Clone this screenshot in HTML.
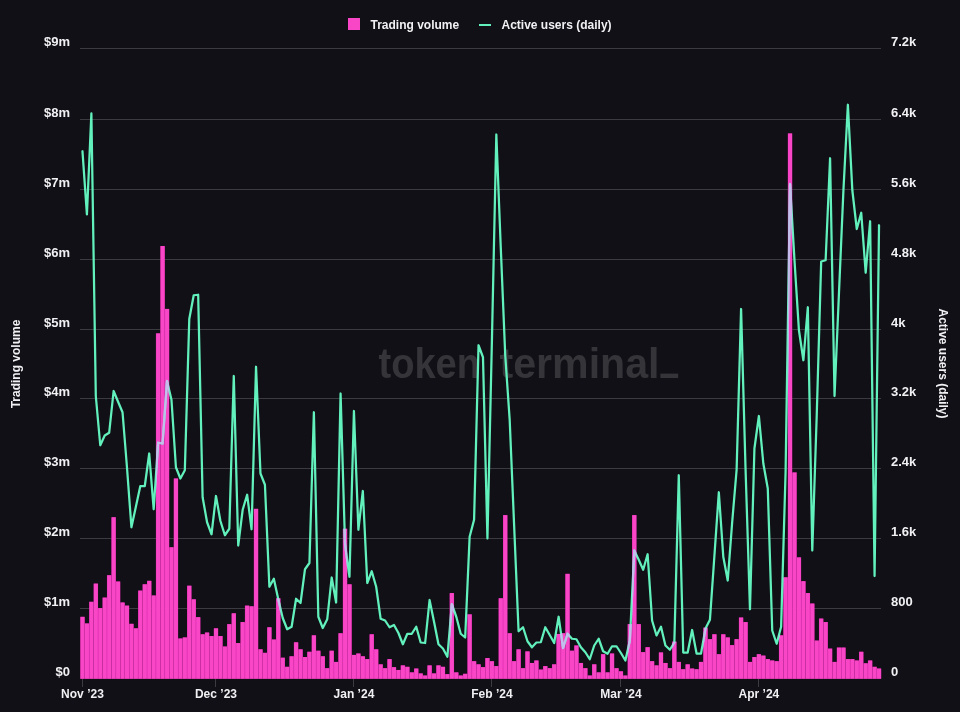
<!DOCTYPE html>
<html><head><meta charset="utf-8"><title>Trading volume / Active users</title>
<style>
html,body{margin:0;padding:0;background:#111016;}
body{width:960px;height:712px;overflow:hidden;font-family:"Liberation Sans",sans-serif;}
svg{display:block}
svg{opacity:0.999}
text{font-family:"Liberation Sans",sans-serif;font-weight:bold;fill:#f1f1f3;}
</style></head><body>
<svg width="960" height="712" viewBox="0 0 960 712">
<rect width="960" height="712" fill="#111016"/>
<g style="font-size:42px;font-weight:bold;fill:#343439"><text x="378.5" y="378" textLength="101.5" lengthAdjust="spacingAndGlyphs" style="font-size:42px;fill:#343439">token</text><text x="499.5" y="378" textLength="160" lengthAdjust="spacingAndGlyphs" style="font-size:42px;fill:#343439">terminal</text><rect x="660.4" y="373.6" width="17.8" height="4.4"/></g>
<g stroke="#3b3b41" stroke-width="1"><line x1="80" x2="881" y1="678.50" y2="678.50"/><line x1="80" x2="881" y1="608.50" y2="608.50"/><line x1="80" x2="881" y1="538.50" y2="538.50"/><line x1="80" x2="881" y1="468.50" y2="468.50"/><line x1="80" x2="881" y1="398.50" y2="398.50"/><line x1="80" x2="881" y1="329.50" y2="329.50"/><line x1="80" x2="881" y1="259.50" y2="259.50"/><line x1="80" x2="881" y1="189.50" y2="189.50"/><line x1="80" x2="881" y1="119.50" y2="119.50"/><line x1="80" x2="881" y1="48.50" y2="48.50"/></g>
<g fill="#cc1fa2"><rect x="80.25" y="616.84" width="4.45" height="61.86"/><rect x="84.70" y="623.48" width="4.45" height="55.22"/><rect x="89.15" y="601.81" width="4.45" height="76.89"/><rect x="93.60" y="583.63" width="4.45" height="95.07"/><rect x="98.05" y="608.10" width="4.45" height="70.60"/><rect x="102.50" y="597.62" width="4.45" height="81.09"/><rect x="106.95" y="575.25" width="4.45" height="103.45"/><rect x="111.40" y="517.23" width="4.45" height="161.47"/><rect x="115.85" y="581.54" width="4.45" height="97.16"/><rect x="120.30" y="602.51" width="4.45" height="76.19"/><rect x="124.75" y="605.65" width="4.45" height="73.05"/><rect x="129.20" y="623.83" width="4.45" height="54.87"/><rect x="133.65" y="628.37" width="4.45" height="50.33"/><rect x="138.10" y="590.62" width="4.45" height="88.08"/><rect x="142.55" y="584.33" width="4.45" height="94.37"/><rect x="147.00" y="580.84" width="4.45" height="97.86"/><rect x="151.45" y="595.52" width="4.45" height="83.18"/><rect x="155.90" y="333.39" width="4.45" height="345.31"/><rect x="160.35" y="246.02" width="4.45" height="432.68"/><rect x="164.80" y="308.93" width="4.45" height="369.77"/><rect x="169.25" y="547.29" width="4.45" height="131.41"/><rect x="173.70" y="478.51" width="4.45" height="200.19"/><rect x="178.15" y="638.51" width="4.45" height="40.19"/><rect x="182.60" y="637.46" width="4.45" height="41.24"/><rect x="187.05" y="585.73" width="4.45" height="92.97"/><rect x="191.50" y="599.36" width="4.45" height="79.34"/><rect x="195.95" y="617.19" width="4.45" height="61.51"/><rect x="200.40" y="634.31" width="4.45" height="44.39"/><rect x="204.85" y="632.57" width="4.45" height="46.13"/><rect x="209.30" y="636.06" width="4.45" height="42.64"/><rect x="213.75" y="628.37" width="4.45" height="50.33"/><rect x="218.20" y="636.06" width="4.45" height="42.64"/><rect x="222.65" y="646.54" width="4.45" height="32.16"/><rect x="227.10" y="624.18" width="4.45" height="54.52"/><rect x="231.55" y="613.34" width="4.45" height="65.36"/><rect x="236.00" y="643.05" width="4.45" height="35.65"/><rect x="240.45" y="622.08" width="4.45" height="56.62"/><rect x="244.90" y="605.65" width="4.45" height="73.05"/><rect x="249.35" y="606.35" width="4.45" height="72.35"/><rect x="253.80" y="508.84" width="4.45" height="169.86"/><rect x="258.25" y="649.34" width="4.45" height="29.36"/><rect x="262.70" y="652.84" width="4.45" height="25.86"/><rect x="267.15" y="627.32" width="4.45" height="51.38"/><rect x="271.60" y="639.55" width="4.45" height="39.15"/><rect x="276.05" y="598.31" width="4.45" height="80.39"/><rect x="280.50" y="657.73" width="4.45" height="20.97"/><rect x="284.95" y="666.82" width="4.45" height="11.88"/><rect x="289.40" y="656.33" width="4.45" height="22.37"/><rect x="293.85" y="642.35" width="4.45" height="36.35"/><rect x="298.30" y="649.34" width="4.45" height="29.36"/><rect x="302.75" y="657.03" width="4.45" height="21.67"/><rect x="307.20" y="651.79" width="4.45" height="26.91"/><rect x="311.65" y="635.36" width="4.45" height="43.34"/><rect x="316.10" y="650.74" width="4.45" height="27.96"/><rect x="320.55" y="656.33" width="4.45" height="22.37"/><rect x="325.00" y="668.21" width="4.45" height="10.49"/><rect x="329.45" y="650.74" width="4.45" height="27.96"/><rect x="333.90" y="661.92" width="4.45" height="16.78"/><rect x="338.35" y="633.26" width="4.45" height="45.44"/><rect x="342.80" y="528.76" width="4.45" height="149.94"/><rect x="347.25" y="584.33" width="4.45" height="94.37"/><rect x="351.70" y="654.93" width="4.45" height="23.77"/><rect x="356.15" y="653.53" width="4.45" height="25.17"/><rect x="360.60" y="656.33" width="4.45" height="22.37"/><rect x="365.05" y="659.13" width="4.45" height="19.57"/><rect x="369.50" y="634.31" width="4.45" height="44.39"/><rect x="373.95" y="649.34" width="4.45" height="29.36"/><rect x="378.40" y="664.37" width="4.45" height="14.33"/><rect x="382.85" y="668.21" width="4.45" height="10.49"/><rect x="387.30" y="659.13" width="4.45" height="19.57"/><rect x="391.75" y="667.17" width="4.45" height="11.53"/><rect x="396.20" y="669.96" width="4.45" height="8.74"/><rect x="400.65" y="665.42" width="4.45" height="13.28"/><rect x="405.10" y="666.82" width="4.45" height="11.88"/><rect x="409.55" y="672.41" width="4.45" height="6.29"/><rect x="414.00" y="668.56" width="4.45" height="10.14"/><rect x="418.45" y="673.46" width="4.45" height="5.24"/><rect x="422.90" y="675.55" width="4.45" height="3.15"/><rect x="427.35" y="665.42" width="4.45" height="13.28"/><rect x="431.80" y="673.46" width="4.45" height="5.24"/><rect x="436.25" y="665.42" width="4.45" height="13.28"/><rect x="440.70" y="666.82" width="4.45" height="11.88"/><rect x="445.15" y="674.16" width="4.45" height="4.54"/><rect x="449.60" y="593.07" width="4.45" height="85.63"/><rect x="454.05" y="672.41" width="4.45" height="6.29"/><rect x="458.50" y="675.55" width="4.45" height="3.15"/><rect x="462.95" y="673.81" width="4.45" height="4.89"/><rect x="467.40" y="614.39" width="4.45" height="64.31"/><rect x="471.85" y="661.22" width="4.45" height="17.48"/><rect x="476.30" y="664.37" width="4.45" height="14.33"/><rect x="480.75" y="667.17" width="4.45" height="11.53"/><rect x="485.20" y="658.08" width="4.45" height="20.62"/><rect x="489.65" y="661.22" width="4.45" height="17.48"/><rect x="494.10" y="666.12" width="4.45" height="12.58"/><rect x="498.55" y="598.31" width="4.45" height="80.39"/><rect x="503.00" y="515.13" width="4.45" height="163.57"/><rect x="507.45" y="633.26" width="4.45" height="45.44"/><rect x="511.90" y="661.22" width="4.45" height="17.48"/><rect x="516.35" y="649.34" width="4.45" height="29.36"/><rect x="520.80" y="668.21" width="4.45" height="10.49"/><rect x="525.25" y="651.44" width="4.45" height="27.26"/><rect x="529.70" y="662.97" width="4.45" height="15.73"/><rect x="534.15" y="660.52" width="4.45" height="18.18"/><rect x="538.60" y="669.61" width="4.45" height="9.09"/><rect x="543.05" y="666.12" width="4.45" height="12.58"/><rect x="547.50" y="668.21" width="4.45" height="10.49"/><rect x="551.95" y="664.37" width="4.45" height="14.33"/><rect x="556.40" y="633.96" width="4.45" height="44.74"/><rect x="560.85" y="633.26" width="4.45" height="45.44"/><rect x="565.30" y="573.85" width="4.45" height="104.85"/><rect x="569.75" y="650.74" width="4.45" height="27.96"/><rect x="574.20" y="645.50" width="4.45" height="33.20"/><rect x="578.65" y="662.97" width="4.45" height="15.73"/><rect x="583.10" y="668.21" width="4.45" height="10.49"/><rect x="587.55" y="675.55" width="4.45" height="3.15"/><rect x="592.00" y="664.37" width="4.45" height="14.33"/><rect x="596.45" y="672.41" width="4.45" height="6.29"/><rect x="600.90" y="654.23" width="4.45" height="24.47"/><rect x="605.35" y="672.41" width="4.45" height="6.29"/><rect x="609.80" y="653.53" width="4.45" height="25.17"/><rect x="614.25" y="668.21" width="4.45" height="10.49"/><rect x="618.70" y="671.36" width="4.45" height="7.34"/><rect x="623.15" y="675.55" width="4.45" height="3.15"/><rect x="627.60" y="624.18" width="4.45" height="54.52"/><rect x="632.05" y="515.13" width="4.45" height="163.57"/><rect x="636.50" y="624.18" width="4.45" height="54.52"/><rect x="640.95" y="652.14" width="4.45" height="26.56"/><rect x="645.40" y="647.24" width="4.45" height="31.46"/><rect x="649.85" y="661.22" width="4.45" height="17.48"/><rect x="654.30" y="665.42" width="4.45" height="13.28"/><rect x="658.75" y="652.49" width="4.45" height="26.21"/><rect x="663.20" y="662.97" width="4.45" height="15.73"/><rect x="667.65" y="668.21" width="4.45" height="10.49"/><rect x="672.10" y="641.65" width="4.45" height="37.05"/><rect x="676.55" y="661.92" width="4.45" height="16.78"/><rect x="681.00" y="669.26" width="4.45" height="9.44"/><rect x="685.45" y="664.37" width="4.45" height="14.33"/><rect x="689.90" y="668.56" width="4.45" height="10.14"/><rect x="694.35" y="669.26" width="4.45" height="9.44"/><rect x="698.80" y="661.92" width="4.45" height="16.78"/><rect x="703.25" y="627.67" width="4.45" height="51.03"/><rect x="707.70" y="639.21" width="4.45" height="39.49"/><rect x="712.15" y="634.31" width="4.45" height="44.39"/><rect x="716.60" y="654.23" width="4.45" height="24.47"/><rect x="721.05" y="634.31" width="4.45" height="44.39"/><rect x="725.50" y="637.46" width="4.45" height="41.24"/><rect x="729.95" y="645.15" width="4.45" height="33.55"/><rect x="734.40" y="639.21" width="4.45" height="39.49"/><rect x="738.85" y="617.54" width="4.45" height="61.16"/><rect x="743.30" y="622.08" width="4.45" height="56.62"/><rect x="747.75" y="661.92" width="4.45" height="16.78"/><rect x="752.20" y="657.03" width="4.45" height="21.67"/><rect x="756.65" y="654.23" width="4.45" height="24.47"/><rect x="761.10" y="655.63" width="4.45" height="23.07"/><rect x="765.55" y="659.13" width="4.45" height="19.57"/><rect x="770.00" y="660.52" width="4.45" height="18.18"/><rect x="774.45" y="661.22" width="4.45" height="17.48"/><rect x="778.90" y="635.36" width="4.45" height="43.34"/><rect x="783.35" y="577.34" width="4.45" height="101.36"/><rect x="787.80" y="133.48" width="4.45" height="545.22"/><rect x="792.25" y="472.49" width="4.45" height="206.21"/><rect x="796.70" y="557.42" width="4.45" height="121.28"/><rect x="801.15" y="581.19" width="4.45" height="97.51"/><rect x="805.60" y="593.07" width="4.45" height="85.63"/><rect x="810.05" y="603.56" width="4.45" height="75.14"/><rect x="814.50" y="640.60" width="4.45" height="38.10"/><rect x="818.95" y="618.59" width="4.45" height="60.12"/><rect x="823.40" y="622.08" width="4.45" height="56.62"/><rect x="827.85" y="648.64" width="4.45" height="30.06"/><rect x="832.30" y="661.92" width="4.45" height="16.78"/><rect x="836.75" y="647.59" width="4.45" height="31.11"/><rect x="841.20" y="647.59" width="4.45" height="31.11"/><rect x="845.65" y="659.13" width="4.45" height="19.57"/><rect x="850.10" y="659.13" width="4.45" height="19.57"/><rect x="854.55" y="660.52" width="4.45" height="18.18"/><rect x="859.00" y="651.79" width="4.45" height="26.91"/><rect x="863.45" y="663.32" width="4.45" height="15.38"/><rect x="867.90" y="660.52" width="4.45" height="18.18"/><rect x="872.35" y="666.82" width="4.45" height="11.88"/><rect x="876.80" y="668.56" width="4.45" height="10.14"/></g>
<g fill="#f946c7"><rect x="80.50" y="616.84" width="4.00" height="61.86"/><rect x="84.95" y="623.48" width="4.00" height="55.22"/><rect x="89.40" y="601.81" width="4.00" height="76.89"/><rect x="93.85" y="583.63" width="4.00" height="95.07"/><rect x="98.30" y="608.10" width="4.00" height="70.60"/><rect x="102.75" y="597.62" width="4.00" height="81.09"/><rect x="107.20" y="575.25" width="4.00" height="103.45"/><rect x="111.65" y="517.23" width="4.00" height="161.47"/><rect x="116.10" y="581.54" width="4.00" height="97.16"/><rect x="120.55" y="602.51" width="4.00" height="76.19"/><rect x="125.00" y="605.65" width="4.00" height="73.05"/><rect x="129.45" y="623.83" width="4.00" height="54.87"/><rect x="133.90" y="628.37" width="4.00" height="50.33"/><rect x="138.35" y="590.62" width="4.00" height="88.08"/><rect x="142.80" y="584.33" width="4.00" height="94.37"/><rect x="147.25" y="580.84" width="4.00" height="97.86"/><rect x="151.70" y="595.52" width="4.00" height="83.18"/><rect x="156.15" y="333.39" width="4.00" height="345.31"/><rect x="160.60" y="246.02" width="4.00" height="432.68"/><rect x="165.05" y="308.93" width="4.00" height="369.77"/><rect x="169.50" y="547.29" width="4.00" height="131.41"/><rect x="173.95" y="478.51" width="4.00" height="200.19"/><rect x="178.40" y="638.51" width="4.00" height="40.19"/><rect x="182.85" y="637.46" width="4.00" height="41.24"/><rect x="187.30" y="585.73" width="4.00" height="92.97"/><rect x="191.75" y="599.36" width="4.00" height="79.34"/><rect x="196.20" y="617.19" width="4.00" height="61.51"/><rect x="200.65" y="634.31" width="4.00" height="44.39"/><rect x="205.10" y="632.57" width="4.00" height="46.13"/><rect x="209.55" y="636.06" width="4.00" height="42.64"/><rect x="214.00" y="628.37" width="4.00" height="50.33"/><rect x="218.45" y="636.06" width="4.00" height="42.64"/><rect x="222.90" y="646.54" width="4.00" height="32.16"/><rect x="227.35" y="624.18" width="4.00" height="54.52"/><rect x="231.80" y="613.34" width="4.00" height="65.36"/><rect x="236.25" y="643.05" width="4.00" height="35.65"/><rect x="240.70" y="622.08" width="4.00" height="56.62"/><rect x="245.15" y="605.65" width="4.00" height="73.05"/><rect x="249.60" y="606.35" width="4.00" height="72.35"/><rect x="254.05" y="508.84" width="4.00" height="169.86"/><rect x="258.50" y="649.34" width="4.00" height="29.36"/><rect x="262.95" y="652.84" width="4.00" height="25.86"/><rect x="267.40" y="627.32" width="4.00" height="51.38"/><rect x="271.85" y="639.55" width="4.00" height="39.15"/><rect x="276.30" y="598.31" width="4.00" height="80.39"/><rect x="280.75" y="657.73" width="4.00" height="20.97"/><rect x="285.20" y="666.82" width="4.00" height="11.88"/><rect x="289.65" y="656.33" width="4.00" height="22.37"/><rect x="294.10" y="642.35" width="4.00" height="36.35"/><rect x="298.55" y="649.34" width="4.00" height="29.36"/><rect x="303.00" y="657.03" width="4.00" height="21.67"/><rect x="307.45" y="651.79" width="4.00" height="26.91"/><rect x="311.90" y="635.36" width="4.00" height="43.34"/><rect x="316.35" y="650.74" width="4.00" height="27.96"/><rect x="320.80" y="656.33" width="4.00" height="22.37"/><rect x="325.25" y="668.21" width="4.00" height="10.49"/><rect x="329.70" y="650.74" width="4.00" height="27.96"/><rect x="334.15" y="661.92" width="4.00" height="16.78"/><rect x="338.60" y="633.26" width="4.00" height="45.44"/><rect x="343.05" y="528.76" width="4.00" height="149.94"/><rect x="347.50" y="584.33" width="4.00" height="94.37"/><rect x="351.95" y="654.93" width="4.00" height="23.77"/><rect x="356.40" y="653.53" width="4.00" height="25.17"/><rect x="360.85" y="656.33" width="4.00" height="22.37"/><rect x="365.30" y="659.13" width="4.00" height="19.57"/><rect x="369.75" y="634.31" width="4.00" height="44.39"/><rect x="374.20" y="649.34" width="4.00" height="29.36"/><rect x="378.65" y="664.37" width="4.00" height="14.33"/><rect x="383.10" y="668.21" width="4.00" height="10.49"/><rect x="387.55" y="659.13" width="4.00" height="19.57"/><rect x="392.00" y="667.17" width="4.00" height="11.53"/><rect x="396.45" y="669.96" width="4.00" height="8.74"/><rect x="400.90" y="665.42" width="4.00" height="13.28"/><rect x="405.35" y="666.82" width="4.00" height="11.88"/><rect x="409.80" y="672.41" width="4.00" height="6.29"/><rect x="414.25" y="668.56" width="4.00" height="10.14"/><rect x="418.70" y="673.46" width="4.00" height="5.24"/><rect x="423.15" y="675.55" width="4.00" height="3.15"/><rect x="427.60" y="665.42" width="4.00" height="13.28"/><rect x="432.05" y="673.46" width="4.00" height="5.24"/><rect x="436.50" y="665.42" width="4.00" height="13.28"/><rect x="440.95" y="666.82" width="4.00" height="11.88"/><rect x="445.40" y="674.16" width="4.00" height="4.54"/><rect x="449.85" y="593.07" width="4.00" height="85.63"/><rect x="454.30" y="672.41" width="4.00" height="6.29"/><rect x="458.75" y="675.55" width="4.00" height="3.15"/><rect x="463.20" y="673.81" width="4.00" height="4.89"/><rect x="467.65" y="614.39" width="4.00" height="64.31"/><rect x="472.10" y="661.22" width="4.00" height="17.48"/><rect x="476.55" y="664.37" width="4.00" height="14.33"/><rect x="481.00" y="667.17" width="4.00" height="11.53"/><rect x="485.45" y="658.08" width="4.00" height="20.62"/><rect x="489.90" y="661.22" width="4.00" height="17.48"/><rect x="494.35" y="666.12" width="4.00" height="12.58"/><rect x="498.80" y="598.31" width="4.00" height="80.39"/><rect x="503.25" y="515.13" width="4.00" height="163.57"/><rect x="507.70" y="633.26" width="4.00" height="45.44"/><rect x="512.15" y="661.22" width="4.00" height="17.48"/><rect x="516.60" y="649.34" width="4.00" height="29.36"/><rect x="521.05" y="668.21" width="4.00" height="10.49"/><rect x="525.50" y="651.44" width="4.00" height="27.26"/><rect x="529.95" y="662.97" width="4.00" height="15.73"/><rect x="534.40" y="660.52" width="4.00" height="18.18"/><rect x="538.85" y="669.61" width="4.00" height="9.09"/><rect x="543.30" y="666.12" width="4.00" height="12.58"/><rect x="547.75" y="668.21" width="4.00" height="10.49"/><rect x="552.20" y="664.37" width="4.00" height="14.33"/><rect x="556.65" y="633.96" width="4.00" height="44.74"/><rect x="561.10" y="633.26" width="4.00" height="45.44"/><rect x="565.55" y="573.85" width="4.00" height="104.85"/><rect x="570.00" y="650.74" width="4.00" height="27.96"/><rect x="574.45" y="645.50" width="4.00" height="33.20"/><rect x="578.90" y="662.97" width="4.00" height="15.73"/><rect x="583.35" y="668.21" width="4.00" height="10.49"/><rect x="587.80" y="675.55" width="4.00" height="3.15"/><rect x="592.25" y="664.37" width="4.00" height="14.33"/><rect x="596.70" y="672.41" width="4.00" height="6.29"/><rect x="601.15" y="654.23" width="4.00" height="24.47"/><rect x="605.60" y="672.41" width="4.00" height="6.29"/><rect x="610.05" y="653.53" width="4.00" height="25.17"/><rect x="614.50" y="668.21" width="4.00" height="10.49"/><rect x="618.95" y="671.36" width="4.00" height="7.34"/><rect x="623.40" y="675.55" width="4.00" height="3.15"/><rect x="627.85" y="624.18" width="4.00" height="54.52"/><rect x="632.30" y="515.13" width="4.00" height="163.57"/><rect x="636.75" y="624.18" width="4.00" height="54.52"/><rect x="641.20" y="652.14" width="4.00" height="26.56"/><rect x="645.65" y="647.24" width="4.00" height="31.46"/><rect x="650.10" y="661.22" width="4.00" height="17.48"/><rect x="654.55" y="665.42" width="4.00" height="13.28"/><rect x="659.00" y="652.49" width="4.00" height="26.21"/><rect x="663.45" y="662.97" width="4.00" height="15.73"/><rect x="667.90" y="668.21" width="4.00" height="10.49"/><rect x="672.35" y="641.65" width="4.00" height="37.05"/><rect x="676.80" y="661.92" width="4.00" height="16.78"/><rect x="681.25" y="669.26" width="4.00" height="9.44"/><rect x="685.70" y="664.37" width="4.00" height="14.33"/><rect x="690.15" y="668.56" width="4.00" height="10.14"/><rect x="694.60" y="669.26" width="4.00" height="9.44"/><rect x="699.05" y="661.92" width="4.00" height="16.78"/><rect x="703.50" y="627.67" width="4.00" height="51.03"/><rect x="707.95" y="639.21" width="4.00" height="39.49"/><rect x="712.40" y="634.31" width="4.00" height="44.39"/><rect x="716.85" y="654.23" width="4.00" height="24.47"/><rect x="721.30" y="634.31" width="4.00" height="44.39"/><rect x="725.75" y="637.46" width="4.00" height="41.24"/><rect x="730.20" y="645.15" width="4.00" height="33.55"/><rect x="734.65" y="639.21" width="4.00" height="39.49"/><rect x="739.10" y="617.54" width="4.00" height="61.16"/><rect x="743.55" y="622.08" width="4.00" height="56.62"/><rect x="748.00" y="661.92" width="4.00" height="16.78"/><rect x="752.45" y="657.03" width="4.00" height="21.67"/><rect x="756.90" y="654.23" width="4.00" height="24.47"/><rect x="761.35" y="655.63" width="4.00" height="23.07"/><rect x="765.80" y="659.13" width="4.00" height="19.57"/><rect x="770.25" y="660.52" width="4.00" height="18.18"/><rect x="774.70" y="661.22" width="4.00" height="17.48"/><rect x="779.15" y="635.36" width="4.00" height="43.34"/><rect x="783.60" y="577.34" width="4.00" height="101.36"/><rect x="788.05" y="133.48" width="4.00" height="545.22"/><rect x="792.50" y="472.49" width="4.00" height="206.21"/><rect x="796.95" y="557.42" width="4.00" height="121.28"/><rect x="801.40" y="581.19" width="4.00" height="97.51"/><rect x="805.85" y="593.07" width="4.00" height="85.63"/><rect x="810.30" y="603.56" width="4.00" height="75.14"/><rect x="814.75" y="640.60" width="4.00" height="38.10"/><rect x="819.20" y="618.59" width="4.00" height="60.12"/><rect x="823.65" y="622.08" width="4.00" height="56.62"/><rect x="828.10" y="648.64" width="4.00" height="30.06"/><rect x="832.55" y="661.92" width="4.00" height="16.78"/><rect x="837.00" y="647.59" width="4.00" height="31.11"/><rect x="841.45" y="647.59" width="4.00" height="31.11"/><rect x="845.90" y="659.13" width="4.00" height="19.57"/><rect x="850.35" y="659.13" width="4.00" height="19.57"/><rect x="854.80" y="660.52" width="4.00" height="18.18"/><rect x="859.25" y="651.79" width="4.00" height="26.91"/><rect x="863.70" y="663.32" width="4.00" height="15.38"/><rect x="868.15" y="660.52" width="4.00" height="18.18"/><rect x="872.60" y="666.82" width="4.00" height="11.88"/><rect x="877.05" y="668.56" width="4.00" height="10.14"/></g>
<g stroke="#3b3b41" stroke-width="1" shape-rendering="crispEdges"><line x1="82.47" x2="82.47" y1="678.70" y2="686.70"/><line x1="215.97" x2="215.97" y1="678.70" y2="686.70"/><line x1="353.93" x2="353.93" y1="678.70" y2="686.70"/><line x1="491.88" x2="491.88" y1="678.70" y2="686.70"/><line x1="620.93" x2="620.93" y1="678.70" y2="686.70"/><line x1="758.88" x2="758.88" y1="678.70" y2="686.70"/></g>
<polyline points="82.47,151.25 86.92,214.45 91.38,113.45 95.82,396.25 100.27,445.25 104.72,435.50 109.17,432.75 113.62,391.00 118.07,401.75 122.53,412.25 126.97,467.25 131.42,527.25 135.88,506.75 140.32,486.00 144.78,486.00 149.22,453.50 153.67,509.25 158.12,442.75 162.58,443.50 167.03,381.00 171.47,399.75 175.92,467.25 180.38,478.50 184.83,470.25 189.28,319.00 193.72,295.25 198.17,294.75 202.62,497.25 207.08,522.25 211.53,534.25 215.97,496.00 220.43,521.00 224.88,535.25 229.32,528.75 233.78,376.00 238.22,545.50 242.68,509.75 247.12,494.75 251.57,529.25 256.03,366.75 260.48,473.50 264.93,484.75 269.38,586.75 273.83,578.75 278.28,599.25 282.73,618.00 287.18,629.25 291.62,626.75 296.08,598.75 300.53,603.00 304.98,569.25 309.43,563.00 313.88,412.25 318.33,616.75 322.78,628.00 327.23,619.25 331.68,577.50 336.12,602.50 340.58,393.50 345.03,544.25 349.48,576.75 353.93,411.00 358.38,529.75 362.83,491.00 367.28,583.00 371.73,571.25 376.18,586.75 380.63,618.75 385.08,620.50 389.53,627.25 393.98,625.00 398.43,633.00 402.88,644.25 407.33,633.75 411.78,633.75 416.23,626.75 420.68,642.50 425.13,643.00 429.58,600.00 434.03,621.75 438.48,644.25 442.93,648.50 447.38,656.75 451.83,604.25 456.28,616.75 460.73,633.75 465.18,637.50 469.63,536.75 474.08,519.75 478.53,345.25 482.98,357.25 487.43,538.50 491.88,342.25 496.33,134.50 500.78,247.75 505.23,355.25 509.68,419.75 514.12,525.25 518.58,631.25 523.02,627.25 527.48,641.25 531.93,647.25 536.38,642.50 540.83,642.25 545.27,627.25 549.73,635.00 554.18,643.00 558.63,616.75 563.08,648.00 567.52,633.75 571.98,638.75 576.43,639.25 580.88,647.25 585.33,652.25 589.77,659.25 594.23,645.50 598.68,638.75 603.12,651.25 607.58,653.75 612.03,646.25 616.48,646.25 620.93,653.00 625.38,660.50 629.83,640.50 634.28,550.50 638.73,559.75 643.18,569.75 647.62,554.25 652.08,620.50 656.53,635.50 660.98,626.75 665.43,645.50 669.88,649.75 674.33,642.50 678.78,475.25 683.23,652.50 687.68,652.50 692.12,630.00 696.58,653.50 701.03,653.50 705.48,628.50 709.93,619.75 714.38,556.25 718.83,492.25 723.28,556.75 727.73,580.50 732.18,522.25 736.62,469.75 741.08,309.00 745.53,468.25 749.98,609.25 754.43,448.50 758.88,416.00 763.33,463.50 767.78,488.50 772.23,630.50 776.68,643.75 781.12,626.75 785.58,472.25 790.03,184.00 794.48,260.25 798.93,330.25 803.38,360.25 807.83,307.25 812.28,550.50 816.73,415.25 821.18,261.50 825.62,260.25 830.08,158.25 834.53,396.00 838.98,292.75 843.43,190.25 847.88,104.75 852.33,190.25 856.78,229.00 861.23,212.75 865.68,272.75 870.12,221.25 874.58,576.00 879.03,225.25" fill="none" stroke="#62f0bc" stroke-width="2.25" stroke-linejoin="round" stroke-linecap="round"/>
<clipPath id="bc"><rect x="80.25" y="616.84" width="4.45" height="61.86"/><rect x="84.70" y="623.48" width="4.45" height="55.22"/><rect x="89.15" y="601.81" width="4.45" height="76.89"/><rect x="93.60" y="583.63" width="4.45" height="95.07"/><rect x="98.05" y="608.10" width="4.45" height="70.60"/><rect x="102.50" y="597.62" width="4.45" height="81.09"/><rect x="106.95" y="575.25" width="4.45" height="103.45"/><rect x="111.40" y="517.23" width="4.45" height="161.47"/><rect x="115.85" y="581.54" width="4.45" height="97.16"/><rect x="120.30" y="602.51" width="4.45" height="76.19"/><rect x="124.75" y="605.65" width="4.45" height="73.05"/><rect x="129.20" y="623.83" width="4.45" height="54.87"/><rect x="133.65" y="628.37" width="4.45" height="50.33"/><rect x="138.10" y="590.62" width="4.45" height="88.08"/><rect x="142.55" y="584.33" width="4.45" height="94.37"/><rect x="147.00" y="580.84" width="4.45" height="97.86"/><rect x="151.45" y="595.52" width="4.45" height="83.18"/><rect x="155.90" y="333.39" width="4.45" height="345.31"/><rect x="160.35" y="246.02" width="4.45" height="432.68"/><rect x="164.80" y="308.93" width="4.45" height="369.77"/><rect x="169.25" y="547.29" width="4.45" height="131.41"/><rect x="173.70" y="478.51" width="4.45" height="200.19"/><rect x="178.15" y="638.51" width="4.45" height="40.19"/><rect x="182.60" y="637.46" width="4.45" height="41.24"/><rect x="187.05" y="585.73" width="4.45" height="92.97"/><rect x="191.50" y="599.36" width="4.45" height="79.34"/><rect x="195.95" y="617.19" width="4.45" height="61.51"/><rect x="200.40" y="634.31" width="4.45" height="44.39"/><rect x="204.85" y="632.57" width="4.45" height="46.13"/><rect x="209.30" y="636.06" width="4.45" height="42.64"/><rect x="213.75" y="628.37" width="4.45" height="50.33"/><rect x="218.20" y="636.06" width="4.45" height="42.64"/><rect x="222.65" y="646.54" width="4.45" height="32.16"/><rect x="227.10" y="624.18" width="4.45" height="54.52"/><rect x="231.55" y="613.34" width="4.45" height="65.36"/><rect x="236.00" y="643.05" width="4.45" height="35.65"/><rect x="240.45" y="622.08" width="4.45" height="56.62"/><rect x="244.90" y="605.65" width="4.45" height="73.05"/><rect x="249.35" y="606.35" width="4.45" height="72.35"/><rect x="253.80" y="508.84" width="4.45" height="169.86"/><rect x="258.25" y="649.34" width="4.45" height="29.36"/><rect x="262.70" y="652.84" width="4.45" height="25.86"/><rect x="267.15" y="627.32" width="4.45" height="51.38"/><rect x="271.60" y="639.55" width="4.45" height="39.15"/><rect x="276.05" y="598.31" width="4.45" height="80.39"/><rect x="280.50" y="657.73" width="4.45" height="20.97"/><rect x="284.95" y="666.82" width="4.45" height="11.88"/><rect x="289.40" y="656.33" width="4.45" height="22.37"/><rect x="293.85" y="642.35" width="4.45" height="36.35"/><rect x="298.30" y="649.34" width="4.45" height="29.36"/><rect x="302.75" y="657.03" width="4.45" height="21.67"/><rect x="307.20" y="651.79" width="4.45" height="26.91"/><rect x="311.65" y="635.36" width="4.45" height="43.34"/><rect x="316.10" y="650.74" width="4.45" height="27.96"/><rect x="320.55" y="656.33" width="4.45" height="22.37"/><rect x="325.00" y="668.21" width="4.45" height="10.49"/><rect x="329.45" y="650.74" width="4.45" height="27.96"/><rect x="333.90" y="661.92" width="4.45" height="16.78"/><rect x="338.35" y="633.26" width="4.45" height="45.44"/><rect x="342.80" y="528.76" width="4.45" height="149.94"/><rect x="347.25" y="584.33" width="4.45" height="94.37"/><rect x="351.70" y="654.93" width="4.45" height="23.77"/><rect x="356.15" y="653.53" width="4.45" height="25.17"/><rect x="360.60" y="656.33" width="4.45" height="22.37"/><rect x="365.05" y="659.13" width="4.45" height="19.57"/><rect x="369.50" y="634.31" width="4.45" height="44.39"/><rect x="373.95" y="649.34" width="4.45" height="29.36"/><rect x="378.40" y="664.37" width="4.45" height="14.33"/><rect x="382.85" y="668.21" width="4.45" height="10.49"/><rect x="387.30" y="659.13" width="4.45" height="19.57"/><rect x="391.75" y="667.17" width="4.45" height="11.53"/><rect x="396.20" y="669.96" width="4.45" height="8.74"/><rect x="400.65" y="665.42" width="4.45" height="13.28"/><rect x="405.10" y="666.82" width="4.45" height="11.88"/><rect x="409.55" y="672.41" width="4.45" height="6.29"/><rect x="414.00" y="668.56" width="4.45" height="10.14"/><rect x="418.45" y="673.46" width="4.45" height="5.24"/><rect x="422.90" y="675.55" width="4.45" height="3.15"/><rect x="427.35" y="665.42" width="4.45" height="13.28"/><rect x="431.80" y="673.46" width="4.45" height="5.24"/><rect x="436.25" y="665.42" width="4.45" height="13.28"/><rect x="440.70" y="666.82" width="4.45" height="11.88"/><rect x="445.15" y="674.16" width="4.45" height="4.54"/><rect x="449.60" y="593.07" width="4.45" height="85.63"/><rect x="454.05" y="672.41" width="4.45" height="6.29"/><rect x="458.50" y="675.55" width="4.45" height="3.15"/><rect x="462.95" y="673.81" width="4.45" height="4.89"/><rect x="467.40" y="614.39" width="4.45" height="64.31"/><rect x="471.85" y="661.22" width="4.45" height="17.48"/><rect x="476.30" y="664.37" width="4.45" height="14.33"/><rect x="480.75" y="667.17" width="4.45" height="11.53"/><rect x="485.20" y="658.08" width="4.45" height="20.62"/><rect x="489.65" y="661.22" width="4.45" height="17.48"/><rect x="494.10" y="666.12" width="4.45" height="12.58"/><rect x="498.55" y="598.31" width="4.45" height="80.39"/><rect x="503.00" y="515.13" width="4.45" height="163.57"/><rect x="507.45" y="633.26" width="4.45" height="45.44"/><rect x="511.90" y="661.22" width="4.45" height="17.48"/><rect x="516.35" y="649.34" width="4.45" height="29.36"/><rect x="520.80" y="668.21" width="4.45" height="10.49"/><rect x="525.25" y="651.44" width="4.45" height="27.26"/><rect x="529.70" y="662.97" width="4.45" height="15.73"/><rect x="534.15" y="660.52" width="4.45" height="18.18"/><rect x="538.60" y="669.61" width="4.45" height="9.09"/><rect x="543.05" y="666.12" width="4.45" height="12.58"/><rect x="547.50" y="668.21" width="4.45" height="10.49"/><rect x="551.95" y="664.37" width="4.45" height="14.33"/><rect x="556.40" y="633.96" width="4.45" height="44.74"/><rect x="560.85" y="633.26" width="4.45" height="45.44"/><rect x="565.30" y="573.85" width="4.45" height="104.85"/><rect x="569.75" y="650.74" width="4.45" height="27.96"/><rect x="574.20" y="645.50" width="4.45" height="33.20"/><rect x="578.65" y="662.97" width="4.45" height="15.73"/><rect x="583.10" y="668.21" width="4.45" height="10.49"/><rect x="587.55" y="675.55" width="4.45" height="3.15"/><rect x="592.00" y="664.37" width="4.45" height="14.33"/><rect x="596.45" y="672.41" width="4.45" height="6.29"/><rect x="600.90" y="654.23" width="4.45" height="24.47"/><rect x="605.35" y="672.41" width="4.45" height="6.29"/><rect x="609.80" y="653.53" width="4.45" height="25.17"/><rect x="614.25" y="668.21" width="4.45" height="10.49"/><rect x="618.70" y="671.36" width="4.45" height="7.34"/><rect x="623.15" y="675.55" width="4.45" height="3.15"/><rect x="627.60" y="624.18" width="4.45" height="54.52"/><rect x="632.05" y="515.13" width="4.45" height="163.57"/><rect x="636.50" y="624.18" width="4.45" height="54.52"/><rect x="640.95" y="652.14" width="4.45" height="26.56"/><rect x="645.40" y="647.24" width="4.45" height="31.46"/><rect x="649.85" y="661.22" width="4.45" height="17.48"/><rect x="654.30" y="665.42" width="4.45" height="13.28"/><rect x="658.75" y="652.49" width="4.45" height="26.21"/><rect x="663.20" y="662.97" width="4.45" height="15.73"/><rect x="667.65" y="668.21" width="4.45" height="10.49"/><rect x="672.10" y="641.65" width="4.45" height="37.05"/><rect x="676.55" y="661.92" width="4.45" height="16.78"/><rect x="681.00" y="669.26" width="4.45" height="9.44"/><rect x="685.45" y="664.37" width="4.45" height="14.33"/><rect x="689.90" y="668.56" width="4.45" height="10.14"/><rect x="694.35" y="669.26" width="4.45" height="9.44"/><rect x="698.80" y="661.92" width="4.45" height="16.78"/><rect x="703.25" y="627.67" width="4.45" height="51.03"/><rect x="707.70" y="639.21" width="4.45" height="39.49"/><rect x="712.15" y="634.31" width="4.45" height="44.39"/><rect x="716.60" y="654.23" width="4.45" height="24.47"/><rect x="721.05" y="634.31" width="4.45" height="44.39"/><rect x="725.50" y="637.46" width="4.45" height="41.24"/><rect x="729.95" y="645.15" width="4.45" height="33.55"/><rect x="734.40" y="639.21" width="4.45" height="39.49"/><rect x="738.85" y="617.54" width="4.45" height="61.16"/><rect x="743.30" y="622.08" width="4.45" height="56.62"/><rect x="747.75" y="661.92" width="4.45" height="16.78"/><rect x="752.20" y="657.03" width="4.45" height="21.67"/><rect x="756.65" y="654.23" width="4.45" height="24.47"/><rect x="761.10" y="655.63" width="4.45" height="23.07"/><rect x="765.55" y="659.13" width="4.45" height="19.57"/><rect x="770.00" y="660.52" width="4.45" height="18.18"/><rect x="774.45" y="661.22" width="4.45" height="17.48"/><rect x="778.90" y="635.36" width="4.45" height="43.34"/><rect x="783.35" y="577.34" width="4.45" height="101.36"/><rect x="787.80" y="133.48" width="4.45" height="545.22"/><rect x="792.25" y="472.49" width="4.45" height="206.21"/><rect x="796.70" y="557.42" width="4.45" height="121.28"/><rect x="801.15" y="581.19" width="4.45" height="97.51"/><rect x="805.60" y="593.07" width="4.45" height="85.63"/><rect x="810.05" y="603.56" width="4.45" height="75.14"/><rect x="814.50" y="640.60" width="4.45" height="38.10"/><rect x="818.95" y="618.59" width="4.45" height="60.12"/><rect x="823.40" y="622.08" width="4.45" height="56.62"/><rect x="827.85" y="648.64" width="4.45" height="30.06"/><rect x="832.30" y="661.92" width="4.45" height="16.78"/><rect x="836.75" y="647.59" width="4.45" height="31.11"/><rect x="841.20" y="647.59" width="4.45" height="31.11"/><rect x="845.65" y="659.13" width="4.45" height="19.57"/><rect x="850.10" y="659.13" width="4.45" height="19.57"/><rect x="854.55" y="660.52" width="4.45" height="18.18"/><rect x="859.00" y="651.79" width="4.45" height="26.91"/><rect x="863.45" y="663.32" width="4.45" height="15.38"/><rect x="867.90" y="660.52" width="4.45" height="18.18"/><rect x="872.35" y="666.82" width="4.45" height="11.88"/><rect x="876.80" y="668.56" width="4.45" height="10.14"/></clipPath><polyline clip-path="url(#bc)" points="82.47,151.25 86.92,214.45 91.38,113.45 95.82,396.25 100.27,445.25 104.72,435.50 109.17,432.75 113.62,391.00 118.07,401.75 122.53,412.25 126.97,467.25 131.42,527.25 135.88,506.75 140.32,486.00 144.78,486.00 149.22,453.50 153.67,509.25 158.12,442.75 162.58,443.50 167.03,381.00 171.47,399.75 175.92,467.25 180.38,478.50 184.83,470.25 189.28,319.00 193.72,295.25 198.17,294.75 202.62,497.25 207.08,522.25 211.53,534.25 215.97,496.00 220.43,521.00 224.88,535.25 229.32,528.75 233.78,376.00 238.22,545.50 242.68,509.75 247.12,494.75 251.57,529.25 256.03,366.75 260.48,473.50 264.93,484.75 269.38,586.75 273.83,578.75 278.28,599.25 282.73,618.00 287.18,629.25 291.62,626.75 296.08,598.75 300.53,603.00 304.98,569.25 309.43,563.00 313.88,412.25 318.33,616.75 322.78,628.00 327.23,619.25 331.68,577.50 336.12,602.50 340.58,393.50 345.03,544.25 349.48,576.75 353.93,411.00 358.38,529.75 362.83,491.00 367.28,583.00 371.73,571.25 376.18,586.75 380.63,618.75 385.08,620.50 389.53,627.25 393.98,625.00 398.43,633.00 402.88,644.25 407.33,633.75 411.78,633.75 416.23,626.75 420.68,642.50 425.13,643.00 429.58,600.00 434.03,621.75 438.48,644.25 442.93,648.50 447.38,656.75 451.83,604.25 456.28,616.75 460.73,633.75 465.18,637.50 469.63,536.75 474.08,519.75 478.53,345.25 482.98,357.25 487.43,538.50 491.88,342.25 496.33,134.50 500.78,247.75 505.23,355.25 509.68,419.75 514.12,525.25 518.58,631.25 523.02,627.25 527.48,641.25 531.93,647.25 536.38,642.50 540.83,642.25 545.27,627.25 549.73,635.00 554.18,643.00 558.63,616.75 563.08,648.00 567.52,633.75 571.98,638.75 576.43,639.25 580.88,647.25 585.33,652.25 589.77,659.25 594.23,645.50 598.68,638.75 603.12,651.25 607.58,653.75 612.03,646.25 616.48,646.25 620.93,653.00 625.38,660.50 629.83,640.50 634.28,550.50 638.73,559.75 643.18,569.75 647.62,554.25 652.08,620.50 656.53,635.50 660.98,626.75 665.43,645.50 669.88,649.75 674.33,642.50 678.78,475.25 683.23,652.50 687.68,652.50 692.12,630.00 696.58,653.50 701.03,653.50 705.48,628.50 709.93,619.75 714.38,556.25 718.83,492.25 723.28,556.75 727.73,580.50 732.18,522.25 736.62,469.75 741.08,309.00 745.53,468.25 749.98,609.25 754.43,448.50 758.88,416.00 763.33,463.50 767.78,488.50 772.23,630.50 776.68,643.75 781.12,626.75 785.58,472.25 790.03,184.00 794.48,260.25 798.93,330.25 803.38,360.25 807.83,307.25 812.28,550.50 816.73,415.25 821.18,261.50 825.62,260.25 830.08,158.25 834.53,396.00 838.98,292.75 843.43,190.25 847.88,104.75 852.33,190.25 856.78,229.00 861.23,212.75 865.68,272.75 870.12,221.25 874.58,576.00 879.03,225.25" fill="none" stroke="#c6bdee" stroke-width="2.25" stroke-linejoin="round" stroke-linecap="round"/>
<text x="70" y="675.50" text-anchor="end" style="font-size:13px">$0</text><text x="70" y="605.50" text-anchor="end" style="font-size:13px">$1m</text><text x="70" y="535.50" text-anchor="end" style="font-size:13px">$2m</text><text x="70" y="465.50" text-anchor="end" style="font-size:13px">$3m</text><text x="70" y="395.50" text-anchor="end" style="font-size:13px">$4m</text><text x="70" y="326.50" text-anchor="end" style="font-size:13px">$5m</text><text x="70" y="256.50" text-anchor="end" style="font-size:13px">$6m</text><text x="70" y="186.50" text-anchor="end" style="font-size:13px">$7m</text><text x="70" y="116.50" text-anchor="end" style="font-size:13px">$8m</text><text x="70" y="45.50" text-anchor="end" style="font-size:13px">$9m</text><text x="891" y="675.50" text-anchor="start" style="font-size:13px">0</text><text x="891" y="605.50" text-anchor="start" style="font-size:13px">800</text><text x="891" y="535.50" text-anchor="start" style="font-size:13px">1.6k</text><text x="891" y="465.50" text-anchor="start" style="font-size:13px">2.4k</text><text x="891" y="395.50" text-anchor="start" style="font-size:13px">3.2k</text><text x="891" y="326.50" text-anchor="start" style="font-size:13px">4k</text><text x="891" y="256.50" text-anchor="start" style="font-size:13px">4.8k</text><text x="891" y="186.50" text-anchor="start" style="font-size:13px">5.6k</text><text x="891" y="116.50" text-anchor="start" style="font-size:13px">6.4k</text><text x="891" y="45.50" text-anchor="start" style="font-size:13px">7.2k</text>
<text transform="translate(82.47,697.8) scale(0.925,1)" text-anchor="middle" style="font-size:13px">Nov ’23</text><text transform="translate(215.97,697.8) scale(0.925,1)" text-anchor="middle" style="font-size:13px">Dec ’23</text><text transform="translate(353.93,697.8) scale(0.925,1)" text-anchor="middle" style="font-size:13px">Jan ’24</text><text transform="translate(491.88,697.8) scale(0.925,1)" text-anchor="middle" style="font-size:13px">Feb ’24</text><text transform="translate(620.93,697.8) scale(0.925,1)" text-anchor="middle" style="font-size:13px">Mar ’24</text><text transform="translate(758.88,697.8) scale(0.925,1)" text-anchor="middle" style="font-size:13px">Apr ’24</text>
<text transform="translate(20,364) rotate(-90)" text-anchor="middle" style="font-size:12px">Trading volume</text><text transform="translate(939,363.5) rotate(90)" text-anchor="middle" style="font-size:12px">Active users (daily)</text>
<rect x="348" y="18" width="12" height="12" fill="#f946c7"/><text x="370.5" y="28.5" style="font-size:12px">Trading volume</text><line x1="479" x2="491" y1="25" y2="25" stroke="#62f0bc" stroke-width="2"/><text x="501.5" y="28.5" style="font-size:12px">Active users (daily)</text>
</svg></body></html>
